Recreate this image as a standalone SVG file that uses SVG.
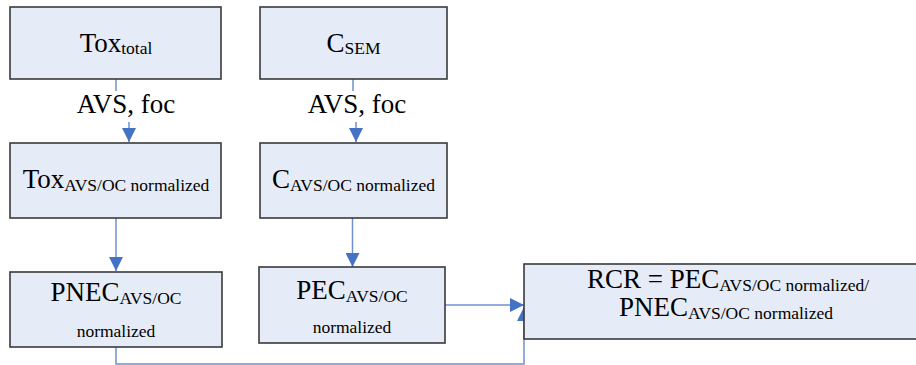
<svg xmlns="http://www.w3.org/2000/svg" width="916" height="365" viewBox="0 0 916 365">
<style>
.box{fill:#E6ECF7;stroke:#3a3a3a;stroke-width:1.6}
.t{font-family:"Liberation Serif","Times New Roman",serif;font-size:27px;fill:#000;text-anchor:middle}
.s{font-size:17.5px}
.c{fill:none;stroke:#6E92D0;stroke-width:1.5}
</style>
<defs>
<marker id="ah" markerUnits="userSpaceOnUse" markerWidth="14" markerHeight="14" refX="14" refY="7" orient="auto">
<path d="M0,0 L14,7 L0,14 z" fill="#4472C4"/>
</marker>
</defs>
<rect width="916" height="365" fill="#fff"/>
<g id="connectors">
<path class="c" d="M116,79 V91"/>
<path class="c" d="M129,122 V142" marker-end="url(#ah)"/>
<path class="c" d="M353,79 V91"/>
<path class="c" d="M356,122 V142" marker-end="url(#ah)"/>
<path class="c" d="M116,218 V271" marker-end="url(#ah)"/>
<path class="c" d="M352.5,218 V267" marker-end="url(#ah)"/>
<path class="c" d="M445,305 H524" marker-end="url(#ah)"/>
<path class="c" d="M116,347 V364 H524 V307" marker-end="url(#ah)"/>
<text class="t" x="126" y="113">AVS, foc</text>
<text class="t" x="357" y="113">AVS, foc</text>
</g>
<g id="tox-total">
<rect class="box" x="10" y="7" width="211" height="72"/>
<text class="t" x="116" y="52">Tox<tspan class="s" dy="2">total</tspan></text>
</g>
<g id="c-sem">
<rect class="box" x="260" y="7" width="187" height="72"/>
<text class="t" x="353.5" y="52">C<tspan class="s" dy="2">SEM</tspan></text>
</g>
<g id="tox-norm">
<rect class="box" x="10" y="143" width="211" height="75"/>
<text class="t" x="116" y="188">Tox<tspan class="s" dy="3">AVS/OC normalized</tspan></text>
</g>
<g id="c-norm">
<rect class="box" x="260" y="143" width="187" height="75"/>
<text class="t" x="353.5" y="188">C<tspan class="s" dy="3">AVS/OC normalized</tspan></text>
</g>
<g id="pnec">
<rect class="box" x="10" y="272" width="212" height="75"/>
<text class="t" x="116" y="301">PNEC<tspan class="s" dy="3">AVS/OC</tspan></text>
<text class="t s" x="116" y="337">normalized</text>
</g>
<g id="pec">
<rect class="box" x="259" y="267" width="186" height="76"/>
<text class="t" x="352" y="299">PEC<tspan class="s" dy="3">AVS/OC</tspan></text>
<text class="t s" x="352" y="333">normalized</text>
</g>
<g id="rcr">
<rect class="box" x="524" y="264" width="410" height="75"/>
<text class="t" x="728" y="288">RCR = PEC<tspan class="s" dy="3">AVS/OC normalized/</tspan></text>
<text class="t" x="726" y="316">PNEC<tspan class="s" dy="3">AVS/OC normalized</tspan></text>
</g>
</svg>
